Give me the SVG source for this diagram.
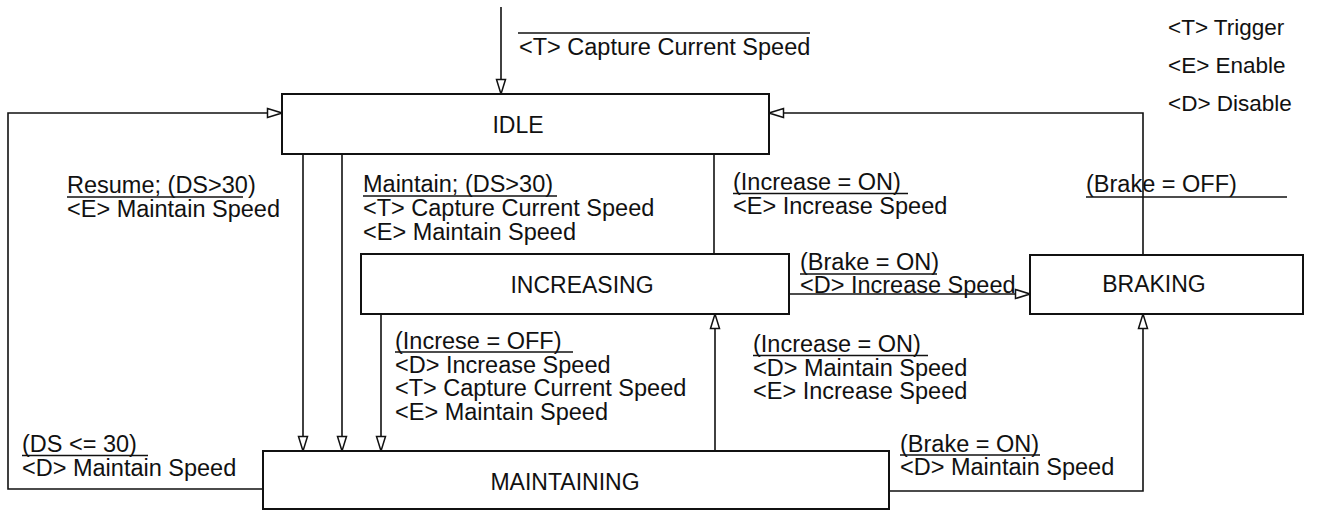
<svg xmlns="http://www.w3.org/2000/svg" width="1317" height="511" viewBox="0 0 1317 511">
<style>
text{font-family:"Liberation Sans",Arial,sans-serif;fill:#111}
.lbl{font-size:23.5px}
.st{font-size:23px}
.lg{font-size:22.5px}
.box{fill:#fff;stroke:#111;stroke-width:2}
.con{fill:none;stroke:#111;stroke-width:1.6}
.ul{stroke:#111;stroke-width:1.4}
</style>
<defs>
<marker id="ah" markerUnits="userSpaceOnUse" markerWidth="18" markerHeight="12" refX="14.5" refY="5" orient="auto" viewBox="-1 -1 17 12">
<path d="M0,0.5 L14.5,5 L0,9.5 z" fill="#fff" stroke="#111" stroke-width="1.5"/>
</marker>
</defs>
<rect width="1317" height="511" fill="#fff"/>
<g id="connectors">
<path class="con" d="M501,7 V94" marker-end="url(#ah)"/>
<path class="con" d="M303,154 V451" marker-end="url(#ah)"/>
<path class="con" d="M342,154 V451" marker-end="url(#ah)"/>
<path class="con" d="M381,314 V451" marker-end="url(#ah)"/>
<path class="con" d="M715,451 V314" marker-end="url(#ah)"/>
<path class="con" d="M714,154 V254"/>
<path class="con" d="M789,294 H1030" marker-end="url(#ah)"/>
<path class="con" d="M1143,255 V113 H769" marker-end="url(#ah)"/>
<path class="con" d="M889,491 H1143 V314" marker-end="url(#ah)"/>
<path class="con" d="M263,489 H8 V113 H282" marker-end="url(#ah)"/>
</g>
<g id="idle">
<rect class="box" x="282" y="94" width="487" height="60"/>
<text class="st" x="518" y="133" text-anchor="middle">IDLE</text>
</g>
<g id="increasing">
<rect class="box" x="361" y="254" width="428" height="60"/>
<text class="st" x="582" y="293" text-anchor="middle">INCREASING</text>
</g>
<g id="braking">
<rect class="box" x="1030" y="255" width="273" height="59"/>
<text class="st" x="1154" y="292" text-anchor="middle">BRAKING</text>
</g>
<g id="maintaining">
<rect class="box" x="263" y="451" width="626" height="58"/>
<text class="st" x="565" y="490" text-anchor="middle">MAINTAINING</text>
</g>
<g id="labels">
<line class="ul" x1="518" y1="33" x2="810" y2="33"/>
<text class="lbl" x="519" y="55">&lt;T&gt; Capture Current Speed</text>

<text class="lbl" x="67" y="193">Resume; (DS&gt;30)</text>
<line class="ul" x1="67" y1="197" x2="243" y2="197"/>
<text class="lbl" x="67" y="216.5">&lt;E&gt; Maintain Speed</text>

<text class="lbl" x="363" y="192">Maintain; (DS&gt;30)</text>
<line class="ul" x1="363" y1="196" x2="557" y2="196"/>
<text class="lbl" x="363" y="216">&lt;T&gt; Capture Current Speed</text>
<text class="lbl" x="363" y="239.5">&lt;E&gt; Maintain Speed</text>

<text class="lbl" x="733" y="190">(Increase = ON)</text>
<line class="ul" x1="733" y1="193.5" x2="908" y2="193.5"/>
<text class="lbl" x="733" y="214">&lt;E&gt; Increase Speed</text>

<text class="lbl" x="1086" y="192">(Brake = OFF)</text>
<line class="ul" x1="1086" y1="197" x2="1287" y2="197"/>

<text class="lbl" x="800" y="269.5">(Brake = ON)</text>
<line class="ul" x1="800" y1="274" x2="937" y2="274"/>
<text class="lbl" x="800" y="293">&lt;D&gt; Increase Speed</text>

<text class="lbl" x="395" y="349">(Increse = OFF)</text>
<line class="ul" x1="395" y1="352" x2="573" y2="352"/>
<text class="lbl" x="395" y="372.5">&lt;D&gt; Increase Speed</text>
<text class="lbl" x="395" y="396">&lt;T&gt; Capture Current Speed</text>
<text class="lbl" x="395" y="419.5">&lt;E&gt; Maintain Speed</text>

<text class="lbl" x="753" y="352">(Increase = ON)</text>
<line class="ul" x1="753" y1="355.5" x2="928" y2="355.5"/>
<text class="lbl" x="753" y="375.5">&lt;D&gt; Maintain Speed</text>
<text class="lbl" x="753" y="399">&lt;E&gt; Increase Speed</text>

<text class="lbl" x="22" y="452">(DS &lt;= 30)</text>
<line class="ul" x1="22" y1="455.5" x2="148" y2="455.5"/>
<text class="lbl" x="22" y="475.5">&lt;D&gt; Maintain Speed</text>

<text class="lbl" x="900" y="451.5">(Brake = ON)</text>
<line class="ul" x1="900" y1="455" x2="1040" y2="455"/>
<text class="lbl" x="900" y="475">&lt;D&gt; Maintain Speed</text>
</g>
<g id="legend">
<text class="lg" x="1168" y="35">&lt;T&gt; Trigger</text>
<text class="lg" x="1168" y="73">&lt;E&gt; Enable</text>
<text class="lg" x="1168" y="111">&lt;D&gt; Disable</text>
</g>
</svg>
